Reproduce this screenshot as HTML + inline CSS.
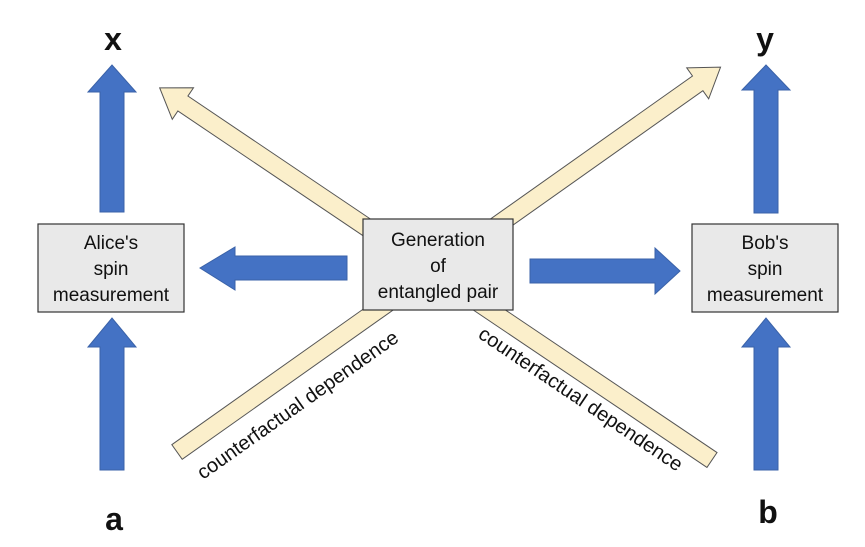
<!DOCTYPE html>
<html><head><style>
html,body{margin:0;padding:0;background:#fff;}
svg{display:block;font-family:"Liberation Sans",sans-serif;}
</style></head><body>
<svg width="865" height="547" viewBox="0 0 865 547" xmlns="http://www.w3.org/2000/svg">
<rect width="865" height="547" fill="#fff"/>
<g transform="translate(177,452) rotate(-35.3)">
<polygon points="0,-9 638,-9 638,-19 666,0 638,19 638,9 0,9" fill="#fbefcb" stroke="#555" stroke-width="1"/>
</g>
<g transform="translate(712,460) rotate(-146.03)">
<polygon points="0,-9 638,-9 638,-19 666,0 638,19 638,9 0,9" fill="#fbefcb" stroke="#555" stroke-width="1"/>
</g>
<g fill="#4472c4" stroke="#3a62a8" stroke-width="1">
<polygon points="100,212 124,212 124,92 136,92 112,65 88,92 100,92"/>
<polygon points="100,470 124,470 124,347 136,347 112,318 88,347 100,347"/>
<polygon points="754,213 778,213 778,90 790,90 766,65 742,90 754,90"/>
<polygon points="754,470 778,470 778,347 790,347 766,318 742,347 754,347"/>
<polygon points="347,256 347,280 235,280 235,290 200,268 235,247 235,256"/>
<polygon points="530,259 530,283 655,283 655,294 680,271 655,248 655,259"/>
</g>
<g fill="#e9e9e9" stroke="#333" stroke-width="1.2">
<rect x="38" y="224" width="146" height="88"/>
<rect x="363" y="219" width="150" height="91"/>
<rect x="692" y="224" width="146" height="88"/>
</g>
<g font-size="19" fill="#111" text-anchor="middle">
<text x="111" y="249">Alice's</text>
<text x="111" y="275">spin</text>
<text x="111" y="301">measurement</text>
<text x="438" y="246">Generation</text>
<text x="438" y="272">of</text>
<text x="438" y="298">entangled pair</text>
<text x="765" y="249">Bob's</text>
<text x="765" y="275">spin</text>
<text x="765" y="301">measurement</text>
</g>
<g font-size="20" fill="#111">
<text transform="translate(203,480) rotate(-35.3)">counterfactual dependence</text>
<text transform="translate(477,337) rotate(34)">counterfactual dependence</text>
</g>
<g font-size="32" fill="#111" text-anchor="middle" font-weight="bold">
<text x="113" y="50">x</text>
<text x="765" y="50">y</text>
<text x="114" y="530">a</text>
<text x="768" y="523">b</text>
</g>
</svg>
</body></html>
